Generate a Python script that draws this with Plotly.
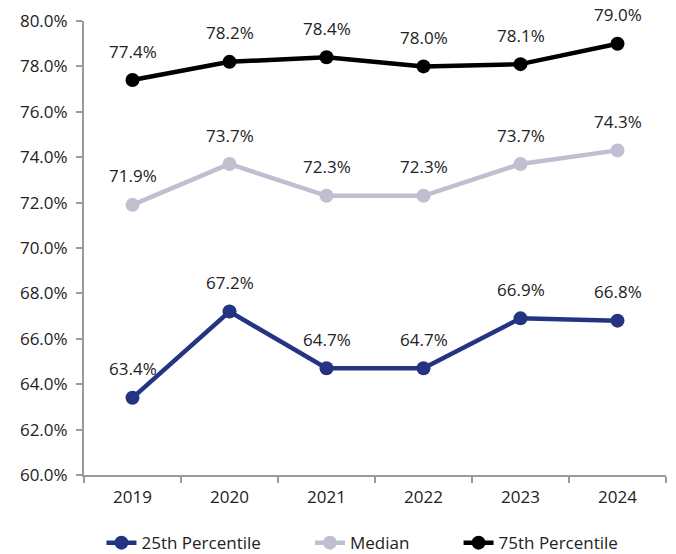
import plotly.graph_objects as go

years = ["2019", "2020", "2021", "2022", "2023", "2024"]
p25 = [63.4, 67.2, 64.7, 64.7, 66.9, 66.8]
median = [71.9, 73.7, 72.3, 72.3, 73.7, 74.3]
p75 = [77.4, 78.2, 78.4, 78.0, 78.1, 79.0]

series = [
    ("25th Percentile", p25, "#243482"),
    ("Median", median, "#c0bfd1"),
    ("75th Percentile", p75, "#000000"),
]

FONT = "Open Sans"
TEXT_COLOR = "#222222"
AXIS_COLOR = "#9a9a9a"
NBSP = "\u00a0"

fig = go.Figure()
annotations = []
for name, vals, color in series:
    fig.add_trace(go.Scatter(
        x=years, y=vals, name=name + NBSP * 10, mode="lines+markers",
        line=dict(color=color, width=4.5),
        marker=dict(color=color, size=14),
    ))
    for i, v in enumerate(vals):
        annotations.append(dict(
            x=i, y=v, xref="x", yref="y", text=f"{v:.1f}%", showarrow=False,
            yshift=29, font=dict(family=FONT, size=17, color=TEXT_COLOR),
        ))

fig.update_layout(
    width=676, height=554,
    margin=dict(l=84, r=10, t=21, b=79, autoexpand=False),
    plot_bgcolor="white", paper_bgcolor="white",
    font=dict(family=FONT, size=17, color=TEXT_COLOR),
    showlegend=True,
    legend=dict(orientation="h", x=0.03, xanchor="left", y=-0.15,
                yanchor="middle", font=dict(size=17), tracegroupgap=0,
                bgcolor="rgba(0,0,0,0)"),
    annotations=annotations,
    xaxis=dict(
        type="category", tickson="boundaries", showline=True,
        linecolor=AXIS_COLOR, linewidth=2, ticks="outside",
        tickcolor=AXIS_COLOR, ticklen=6, tickwidth=2, showgrid=False,
        tickfont=dict(size=17, color=TEXT_COLOR), range=[-0.5, 5.5],
        ticklabelstandoff=6,
    ),
    yaxis=dict(
        range=[60, 80], dtick=2, tickformat=".1f", ticksuffix="%",
        showline=True, linecolor=AXIS_COLOR, linewidth=2, ticks="outside",
        tickcolor=AXIS_COLOR, ticklen=6, tickwidth=2, showgrid=False,
        zeroline=False, tickfont=dict(size=17, color=TEXT_COLOR),
        ticklabelstandoff=5,
    ),
)

fig.write_html("out.html")
